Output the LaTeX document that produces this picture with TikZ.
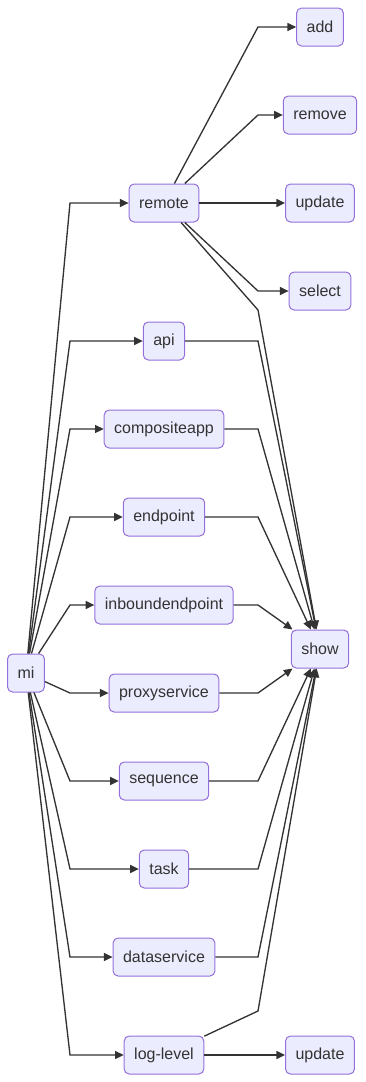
\documentclass[tikz,border=0pt]{standalone}
\usepackage{fontspec}
\setmainfont{Liberation Sans}
\usetikzlibrary{arrows.meta}
\definecolor{boxfill}{HTML}{ECECFF}
\definecolor{boxline}{HTML}{9370DB}
\definecolor{ink}{HTML}{333333}

\begin{document}
\begin{tikzpicture}[x=0.75pt,y=-0.75pt,
  cmd/.style={draw=boxline,fill=boxfill,line width=0.75pt,rounded corners=3.75pt,
    minimum height=28.5pt,inner xsep=7.5pt,text=ink,font=\fontsize{12}{14}\selectfont},
  flow/.style={draw=ink,line width=1pt,-{Triangle[length=6.5pt,width=6pt]}}]
 \useasboundingbox (0,0) rectangle (365,1082);
 % root command
 \node[cmd] (mi) at (26,673) {mi};
 % sub commands
 \node[cmd] (remote) at (164,203) {remote};
 \node[cmd] (api) at (164,341) {api};
 \node[cmd] (compositeapp) at (164,429) {compositeapp};
 \node[cmd] (endpoint) at (164,517) {endpoint};
 \node[cmd] (inboundendpoint) at (164,605) {inboundendpoint};
 \node[cmd] (proxyservice) at (164,693) {proxyservice};
 \node[cmd] (sequence) at (164,781) {sequence};
 \node[cmd] (task) at (164,869) {task};
 \node[cmd] (dataservice) at (164,957) {dataservice};
 \node[cmd] (loglevel) at (164,1055) {log-level};
 % actions
 \node[cmd] (add) at (320,27) {add};
 \node[cmd] (remove) at (320,115) {remove};
 \node[cmd] (update) at (320,203) {update};
 \node[cmd] (select) at (320,291) {select};
 \node[cmd] (show) at (320,649) {show};
 \node[cmd] (setlevel) at (320,1055) {update};
 % mi -> sub commands
 \draw[flow] (mi) -- (70,203) -- (remote);
 \draw[flow] (mi) -- (70,341) -- (api);
 \draw[flow] (mi) -- (70,429) -- (compositeapp);
 \draw[flow] (mi) -- (70,517) -- (endpoint);
 \draw[flow] (mi) -- (70,605) -- (inboundendpoint);
 \draw[flow] (mi) -- (70,693) -- (proxyservice);
 \draw[flow] (mi) -- (70,781) -- (sequence);
 \draw[flow] (mi) -- (70,869) -- (task);
 \draw[flow] (mi) -- (70,957) -- (dataservice);
 \draw[flow] (mi) -- (70,1055) -- (loglevel);
 % remote actions
 \draw[flow] (remote) -- (258,27) -- (add);
 \draw[flow] (remote) -- (258,115) -- (remove);
 \draw[flow] (remote) -- (update);
 \draw[flow] (remote) -- (258,291) -- (select);
 \draw[flow] (remote) -- (258,310) -- (show);
 % everything can show
 \draw[flow] (api) -- (258,341) -- (show);
 \draw[flow] (compositeapp) -- (258,429) -- (show);
 \draw[flow] (endpoint) -- (258,517) -- (show);
 \draw[flow] (inboundendpoint) -- (258,605) -- (show);
 \draw[flow] (proxyservice) -- (258,693) -- (show);
 \draw[flow] (sequence) -- (258,781) -- (show);
 \draw[flow] (task) -- (258,869) -- (show);
 \draw[flow] (dataservice) -- (258,957) -- (show);
 \draw[flow] (loglevel) -- (258,1011) -- (show);
 \draw[flow] (loglevel) -- (setlevel);
\end{tikzpicture}
\end{document}
